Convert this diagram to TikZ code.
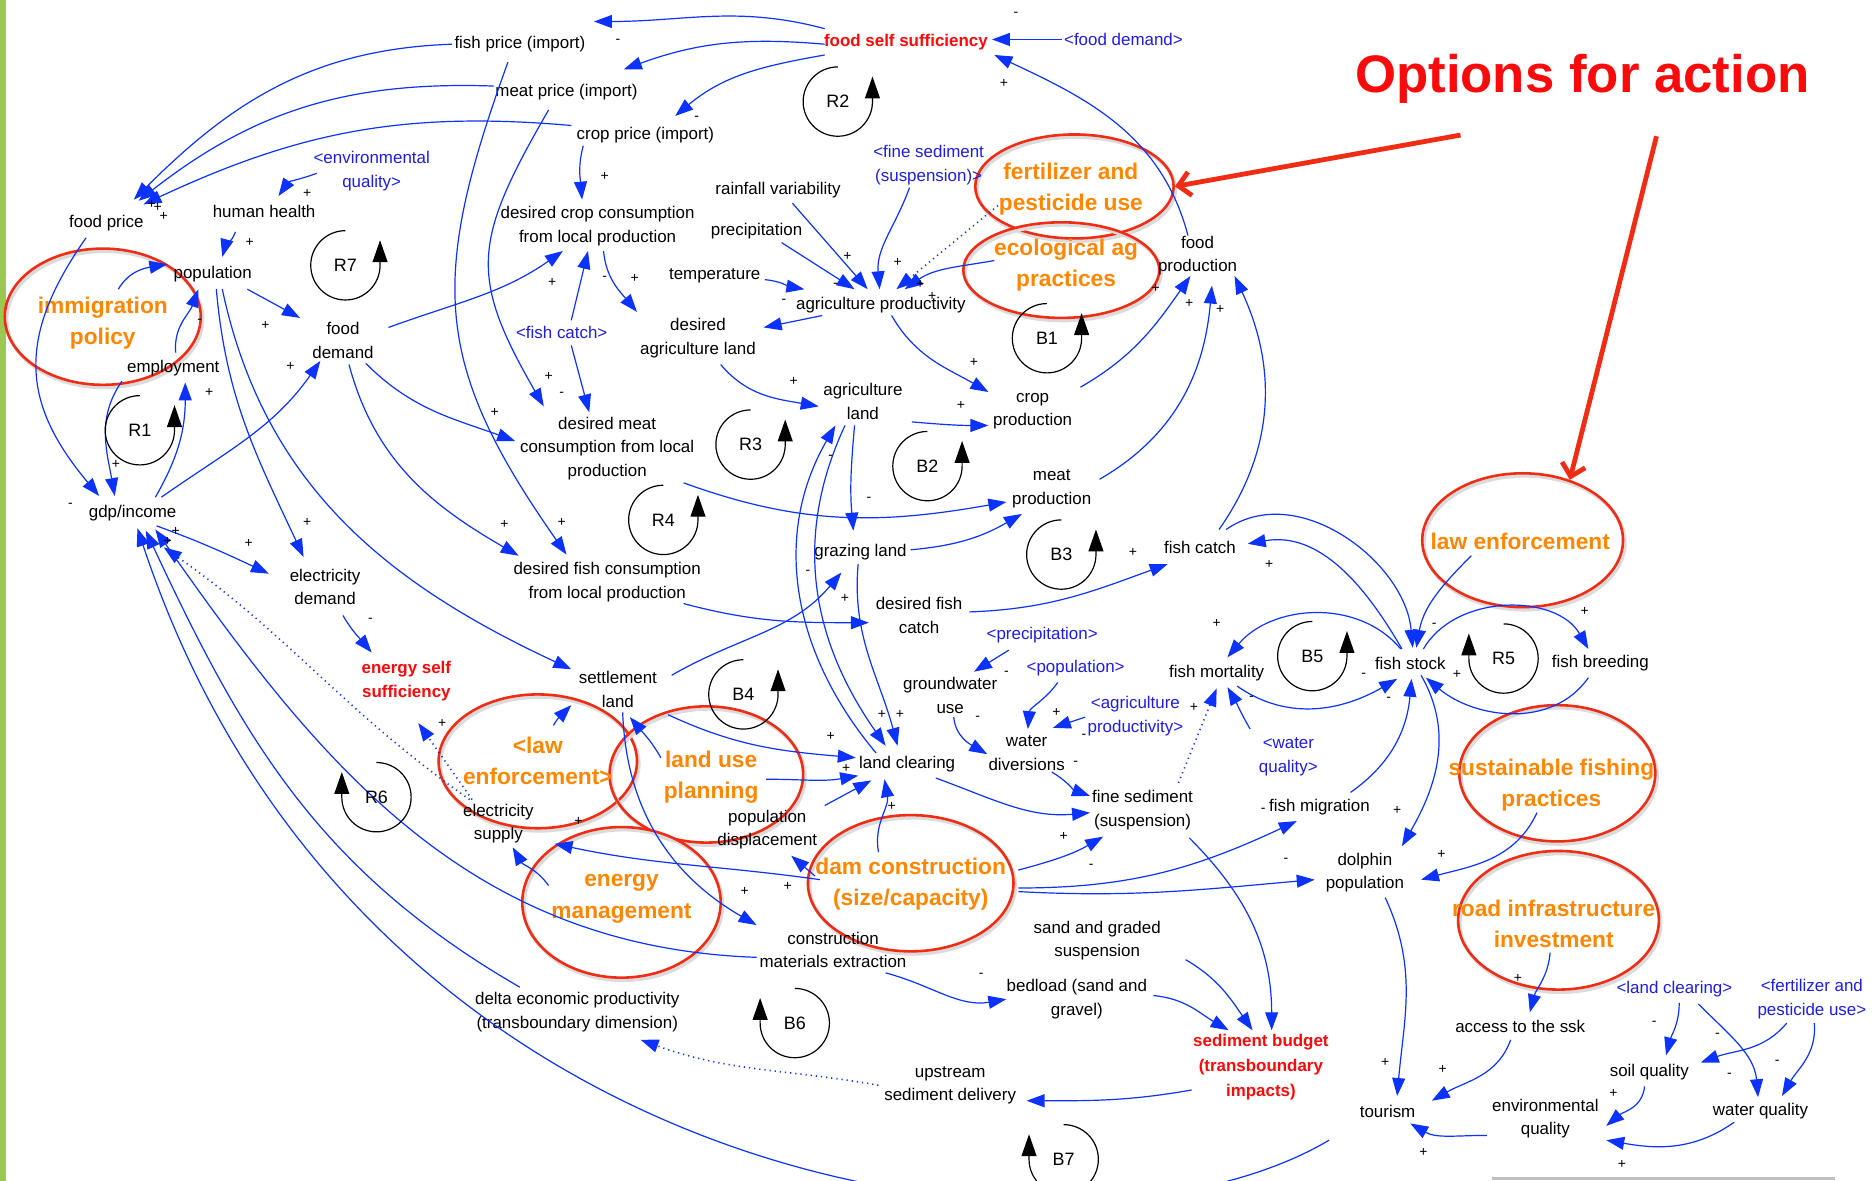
\documentclass[tikz,border=0pt]{standalone}
\usepackage{fontspec}
\setmainfont{Liberation Sans}
\usetikzlibrary{arrows.meta,shapes.geometric}
\definecolor{linkblue}{RGB}{12,50,255}
\definecolor{shadowblue}{RGB}{30,30,225}
\definecolor{goalred}{RGB}{250,10,10}
\definecolor{optorange}{RGB}{255,135,0}
\definecolor{ringred}{RGB}{240,45,20}
\definecolor{barGreen}{RGB}{155,200,80}
\tikzset{
  var/.style={align=center, inner sep=1pt, yshift=-1.2pt, font=\fontsize{8.5}{11.8}\selectfont},
  shadowvar/.style={var, text=shadowblue},
  goal/.style={var, text=goalred, font=\fontsize{8.5}{12.4}\selectfont\bfseries},
  optext/.style={align=center, inner sep=1pt, yshift=-1.2pt, text=optorange, font=\fontsize{11.4}{15.6}\selectfont\bfseries},
  optring/.style={ellipse, draw=ringred, line width=1.3pt, inner sep=0pt,
    preaction={draw=black!14, line width=1.8pt, transform canvas={shift={(0.9pt,-1.3pt)}}}},
  causal/.style={linkblue, line width=0.6pt, -{Triangle[length=9pt,width=6.5pt]}},
  weaklink/.style={causal, dotted, line width=0.8pt},
  polarity/.style={inner sep=0pt, font=\fontsize{7}{7}\selectfont},
  looplabel/.style={inner sep=0pt, font=\fontsize{9}{9}\selectfont},
  loopline/.style={black, line width=0.6pt, -{Triangle[length=11pt,width=7.5pt]}},
  callout/.style={ringred, line width=2.4pt, -{Straight Barb[length=6pt,width=12pt]}},
}
\begin{document}
\begin{tikzpicture}[x=0.6pt, y=0.6pt]
	\useasboundingbox (0,0) rectangle (1568,-988);
	\fill[white] (0,0) rectangle (1568,-988);
	\clip (0,0) rectangle (1568,-988);
	\fill[barGreen] (0,0) rectangle (5,-988);				% side bar
	\draw[black!25, line width=1.2pt] (1248,-986) -- (1535,-986);

	% options for action (rings)
	\node[optring, minimum width=98.4pt, minimum height=68.4pt] (immigring) at (86,-265) {};
	\node[optring, minimum width=99.6pt, minimum height=52.2pt] (fertring) at (899,-156) {};
	\node[optring, minimum width=98.4pt, minimum height=48pt] (ecoring) at (888,-226) {};
	\node[optring, minimum width=100.8pt, minimum height=67.2pt] (lawring) at (1274,-452) {};
	\node[optring, minimum width=99.6pt, minimum height=67.2pt] (lawbring) at (450,-637) {};
	\node[optring, minimum width=97.2pt, minimum height=68.4pt] (landusering) at (591,-648) {};
	\node[optring, minimum width=98.4pt, minimum height=68.4pt] (sustring) at (1303,-647) {};
	\node[optring, minimum width=103.2pt, minimum height=68.4pt] (damring) at (762,-739) {};
	\node[optring, minimum width=99.6pt, minimum height=75.6pt] (energyring) at (520,-755) {};
	\node[optring, minimum width=100.8pt, minimum height=69.6pt] (roadring) at (1304,-770) {};

	\node[optext] (immig) at (86,-268) {immigration\\policy};
	\node[optext] (fertilizer) at (896,-156) {fertilizer and\\pesticide use};
	\node[optext] (ecological) at (892,-220) {ecological ag\\practices};
	\node[optext] (lawenf) at (1272,-451) {law enforcement};
	\node[optext] (lawenfb) at (450,-635) {<law\\enforcement>};
	\node[optext] (landuse) at (595,-648) {land use\\planning};
	\node[optext] (sustainable) at (1298,-655) {sustainable fishing\\practices};
	\node[optext] (damcon) at (762,-738) {dam construction\\(size/capacity)};
	\node[optext] (energymgmt) at (520,-750) {energy\\management};
	\node[optext] (roadinfra) at (1300,-771) {road infrastructure\\investment};

	\node[text=goalred, inner sep=1pt, font=\fontsize{26.5}{30}\selectfont\bfseries] (title) at (1324,-66) {Options for action};
	\draw[callout] ([shift={(-102,-47)}]title.center) -- (fertring.east);
	\draw[callout] ([shift={(62,-48)}]title.center) -- (lawring.52);

	% goals
	\node[goal] (foodself) at (758,-33) {food self sufficiency};
	\node[goal] (energyself) at (340,-568) {energy self\\sufficiency};
	\node[goal] (sedbudget) at (1055,-891) {sediment budget\\(transboundary\\impacts)};

	% shadow variables
	\node[shadowvar] (fooddemandS) at (940,-31) {<food demand>};
	\node[shadowvar] (envqualS) at (311,-141) {<environmental\\quality>};
	\node[shadowvar] (finesedS) at (777,-136) {<fine sediment\\(suspension)>};
	\node[shadowvar] (fishcatchS) at (470,-276) {<fish catch>};
	\node[shadowvar] (precipS) at (872,-529) {<precipitation>};
	\node[shadowvar] (populationS) at (900,-557) {<population>};
	\node[shadowvar] (agprodS) at (950,-597) {<agriculture\\productivity>};
	\node[shadowvar] (waterqualS) at (1078,-631) {<water\\quality>};
	\node[shadowvar] (landclearingS) at (1401,-826) {<land clearing>};
	\node[shadowvar] (fertilizerS) at (1516,-834) {<fertilizer and\\pesticide use>};

	% variables
	\node[var] (fishprice) at (435,-35) {fish price (import)};
	\node[var] (meatprice) at (474,-75) {meat price (import)};
	\node[var] (cropprice) at (540,-111) {crop price (import)};
	\node[var] (foodprice) at (89,-185) {food price};
	\node[var] (humanhealth) at (221,-175) {human health};
	\node[var] (desiredcrop) at (500,-187) {desired crop consumption\\from local production};
	\node[var] (rainfall) at (651,-157) {rainfall variability};
	\node[var] (precip) at (633,-191) {precipitation};
	\node[var] (temperature) at (598,-229) {temperature};
	\node[var] (agprod) at (737,-253) {agriculture productivity};
	\node[var] (foodprod) at (1002,-212) {food\\production};
	\node[var] (population) at (178,-227) {population};
	\node[var] (employment) at (145,-306) {employment};
	\node[var] (fooddemand) at (287,-283) {food\\demand};
	\node[var] (desiredagland) at (584,-281) {desired\\agriculture land};
	\node[var] (agland) at (722,-334) {agriculture\\land};
	\node[var] (cropprod) at (864,-342) {crop\\production};
	\node[var] (desiredmeat) at (508,-373) {desired meat\\consumption from local\\production};
	\node[var] (gdp) at (111,-427) {gdp/income};
	\node[var] (meatprod) at (880,-407) {meat\\production};
	\node[var] (grazing) at (720,-460) {grazing land};
	\node[var] (fishcatch) at (1004,-456) {fish catch};
	\node[var] (elecdemand) at (272,-489) {electricity\\demand};
	\node[var] (desiredfish) at (508,-485) {desired fish consumption\\from local production};
	\node[var] (desiredfishcatch) at (769,-513) {desired fish\\catch};
	\node[var] (settlement) at (517,-575) {settlement\\land};
	\node[var] (groundwater) at (795,-580) {groundwater\\use};
	\node[var] (fishmort) at (1018,-561) {fish mortality};
	\node[var] (fishstock) at (1180,-553) {fish stock};
	\node[var] (fishbreed) at (1339,-553) {fish breeding};
	\node[var] (waterdiv) at (859,-628) {water\\diversions};
	\node[var] (landclearing) at (759,-637) {land clearing};
	\node[var] (elecsupply) at (417,-687) {electricity\\supply};
	\node[var] (popdisp) at (642,-692) {population\\displacement};
	\node[var] (finesed) at (956,-676) {fine sediment\\(suspension)};
	\node[var] (fishmig) at (1104,-673) {fish migration};
	\node[var] (dolphin) at (1142,-728) {dolphin\\population};
	\node[var] (construction) at (697,-793) {construction\\materials extraction};
	\node[var] (sandgraded) at (918,-785) {sand and graded\\suspension};
	\node[var] (bedload) at (901,-834) {bedload (sand and\\gravel)};
	\node[var] (deltaecon) at (483,-845) {delta economic productivity\\(transboundary dimension)};
	\node[var] (access) at (1272,-857) {access to the ssk};
	\node[var] (soilqual) at (1380,-895) {soil quality};
	\node[var] (upstream) at (795,-906) {upstream\\sediment delivery};
	\node[var] (tourism) at (1161,-928) {tourism};
	\node[var] (envquality) at (1293,-934) {environmental\\quality};
	\node[var] (waterqual) at (1473,-928) {water quality};

	% food prices and self sufficiency
	\draw[causal] ([shift={(-68,11)}]foodself.center) to[out=165,in=0] ([shift={(62,19)}]fishprice.center);
	\draw[causal] ([shift={(-68,-2)}]foodself.center) to[out=175,in=20] ([shift={(48,19)}]meatprice.center);
	\draw[causal] ([shift={(-68,-11)}]foodself.center) to[out=190,in=40] ([shift={(25,16)}]cropprice.center);
	\draw[causal] (fooddemandS.west) -- ([shift={(72,2)}]foodself.center);
	\draw[causal] ([shift={(-8,17)}]foodprod.center) to[out=105,in=-25] ([shift={(74,-11)}]foodself.center);
	\draw[causal] ([shift={(-57,0)}]fishprice.center) to[out=182,in=45] ([shift={(23,20)}]foodprice.center);
	\draw[causal] ([shift={(-61,5)}]meatprice.center) to[out=178,in=38] ([shift={(27,19)}]foodprice.center);
	\draw[causal] ([shift={(-62,8)}]cropprice.center) to[out=175,in=25] ([shift={(31,16)}]foodprice.center);
	\draw[causal] ([shift={(-10,-15)}]fishprice.center) to[out=250,in=125,looseness=1.2] ([shift={(-34,23)}]desiredfish.center);
	\draw[causal] ([shift={(-15,-15)}]meatprice.center) to[out=240,in=120,looseness=1.3] ([shift={(-53,35)}]desiredmeat.center);
	\draw[causal] ([shift={(-52,-9)}]cropprice.center) to[out=255,in=95] ([shift={(-13,22)}]desiredcrop.center);

	% population and economy
	\draw[causal] ([shift={(-46,-2)}]envqualS.center) to[out=200,in=55] ([shift={(12,13)}]humanhealth.center);
	\draw[causal] ([shift={(-24,-17)}]humanhealth.center) to[out=250,in=75] ([shift={(8,14)}]population.center);
	\draw[causal] ([shift={(13,28)}]immig.center) to[out=60,in=190] ([shift={(-38,8)}]population.center);
	\draw[causal] ([shift={(2,13)}]employment.center) to[out=95,in=250] ([shift={(-12,-13)}]population.center);
	\draw[causal] ([shift={(29,-13)}]population.center) -- ([shift={(-36,19)}]fooddemand.center);
	\draw[causal] ([shift={(3,-13)}]population.center) to[out=-85,in=115] ([shift={(-18,25)}]elecdemand.center);
	\draw[causal] ([shift={(8,-13)}]population.center) to[out=-78,in=155] ([shift={(-39,17)}]settlement.center);
	\draw[causal] ([shift={(19,13)}]gdp.center) to[out=60,in=-90] ([shift={(10,-12)}]employment.center);
	\draw[causal] ([shift={(-43,-11)}]employment.center) to[out=235,in=100] ([shift={(-15,14)}]gdp.center);
	\draw[causal] ([shift={(-17,-12)}]foodprice.center) to[out=235,in=130,looseness=1.2] ([shift={(-28,14)}]gdp.center);
	\draw[causal] ([shift={(24,13)}]gdp.center) to[out=35,in=235] ([shift={(-19,-17)}]fooddemand.center);
	\draw[causal] ([shift={(20,-11)}]gdp.center) to[out=-20,in=155] ([shift={(-47,11)}]elecdemand.center);

	% food demand
	\draw[causal] ([shift={(38,11)}]fooddemand.center) to[out=20,in=215] ([shift={(-29,-21)}]desiredcrop.center);
	\draw[causal] ([shift={(8,10)}]fishcatchS.center) -- ([shift={(-8,-21)}]desiredcrop.center);
	\draw[causal] ([shift={(8,-11)}]fishcatchS.center) -- ([shift={(-15,30)}]desiredmeat.center);
	\draw[causal] ([shift={(19,-19)}]fooddemand.center) to[out=-45,in=160] ([shift={(-77,6)}]desiredmeat.center);
	\draw[causal] ([shift={(5,-20)}]fooddemand.center) to[out=-75,in=150] ([shift={(-74,22)}]desiredfish.center);
	\draw[causal] ([shift={(5,-21)}]desiredcrop.center) to[out=-85,in=130] ([shift={(-51,22)}]desiredagland.center);

	% agriculture
	\draw[causal] ([shift={(42,-3)}]temperature.center) to[out=-5,in=170] ([shift={(-64,13)}]agprod.center);
	\draw[causal] ([shift={(21,-10)}]precip.center) -- ([shift={(-22,13)}]agprod.center);
	\draw[causal] ([shift={(12,-11)}]rainfall.center) -- ([shift={(-11,13)}]agprod.center);
	\draw[causal] ([shift={(-16,-19)}]finesedS.center) to[out=250,in=95] ([shift={(-1,13)}]agprod.center);
	\draw[weaklink] ([shift={(-61,-14)}]fertilizer.center) -- ([shift={(13,13)}]agprod.center);
	\draw[causal] ([shift={(-60,4)}]ecological.center) to[out=190,in=35] ([shift={(20,13)}]agprod.center);
	\draw[causal] ([shift={(-49,-9)}]agprod.center) -- ([shift={(55,9)}]desiredagland.center);
	\draw[causal] ([shift={(9,-9)}]agprod.center) to[out=-60,in=150] ([shift={(-37,16)}]cropprod.center);
	\draw[causal] ([shift={(19,-22)}]desiredagland.center) to[out=-50,in=170] ([shift={(-37,-4)}]agland.center);
	\draw[causal] ([shift={(41,-17)}]agland.center) to[out=-5,in=180] ([shift={(-37,-12)}]cropprod.center);
	\draw[causal] ([shift={(-7,-20)}]agland.center) to[out=-95,in=95] ([shift={(-6,18)}]grazing.center);
	\draw[causal] ([shift={(-15,-20)}]agland.center) to[out=-115,in=125] ([shift={(-18,15)}]landclearing.center);
	\draw[causal] ([shift={(-26,9)}]landclearing.center) to[out=130,in=240] ([shift={(-23,-20)}]agland.center);
	\draw[causal] ([shift={(-2,-10)}]grazing.center) to[out=-95,in=105] ([shift={(-8,15)}]landclearing.center);
	\draw[causal] ([shift={(42,2)}]grazing.center) to[out=5,in=210] ([shift={(-25,-21)}]meatprod.center);
	\draw[causal] ([shift={(64,-29)}]desiredmeat.center) to[out=-20,in=190] ([shift={(-38,-11)}]meatprod.center);
	\draw[causal] ([shift={(40,8)}]meatprod.center) to[out=30,in=-95] ([shift={(12,-25)}]foodprod.center);
	\draw[causal] ([shift={(40,20)}]cropprod.center) to[out=30,in=235] ([shift={(-6,-17)}]foodprod.center);
	\draw[causal] ([shift={(16,15)}]fishcatch.center) to[out=55,in=-65] ([shift={(31,-17)}]foodprod.center);

	% fisheries
	\draw[causal] ([shift={(64,-18)}]desiredfish.center) to[out=-15,in=180] ([shift={(-42,-6)}]desiredfishcatch.center);
	\draw[causal] ([shift={(45,12)}]settlement.center) to[out=30,in=230] ([shift={(-16,-17)}]grazing.center);
	\draw[causal] ([shift={(42,3)}]desiredfishcatch.center) to[out=2,in=200] ([shift={(-27,-14)}]fishcatch.center);
	\draw[causal] ([shift={(-7,12)}]fishstock.center) to[out=120,in=10] ([shift={(40,3)}]fishcatch.center);
	\draw[causal] ([shift={(22,15)}]fishcatch.center) to[out=35,in=95] ([shift={(2,13)}]fishstock.center);
	\draw[causal] ([shift={(-41,-12)}]lawenf.center) to[out=225,in=80] ([shift={(5,13)}]fishstock.center);
	\draw[causal] ([shift={(-8,12)}]fishstock.center) to[out=130,in=50] ([shift={(9,13)}]fishmort.center);
	\draw[causal] ([shift={(17,-11)}]fishmort.center) to[out=-35,in=210] ([shift={(-11,-13)}]fishstock.center);
	\draw[causal] ([shift={(11,12)}]fishstock.center) to[out=60,in=120] ([shift={(-10,12)}]fishbreed.center);
	\draw[causal] ([shift={(-10,-12)}]fishbreed.center) to[out=-125,in=-40] ([shift={(13,-12)}]fishstock.center);
	\draw[causal] ([shift={(9,-10)}]fishstock.center) to[out=-60,in=60] ([shift={(31,22)}]dolphin.center);
	\draw[causal] ([shift={(26,12)}]fishmig.center) to[out=35,in=-95] ([shift={(1,-13)}]fishstock.center);
	\draw[causal] ([shift={(-32,23)}]waterqualS.center) to[out=120,in=-60] ([shift={(9,-12)}]fishmort.center);
	\draw[weaklink] ([shift={(30,23)}]finesed.center) -- ([shift={(0,-13)}]fishmort.center);
	\draw[causal] ([shift={(-12,-23)}]sustainable.center) to[out=-115,in=15] ([shift={(47,-6)}]dolphin.center);

	% dam, land and sediment
	\draw[causal] ([shift={(90,-6)}]damcon.center) to[out=-3,in=185] ([shift={(-42,-6)}]dolphin.center);
	\draw[causal] ([shift={(90,-3)}]damcon.center) to[out=0,in=205] ([shift={(-19,-12)}]fishmig.center);
	\draw[causal] ([shift={(90,12)}]damcon.center) to[out=15,in=210] ([shift={(-33,-22)}]finesed.center);
	\draw[causal] ([shift={(-27,27)}]damcon.center) to[out=100,in=-80] ([shift={(-19,-13)}]landclearing.center);
	\draw[causal] ([shift={(-80,7)}]damcon.center) -- ([shift={(20,-22)}]popdisp.center);
	\draw[causal] ([shift={(-76,4)}]damcon.center) to[out=172,in=-12] ([shift={(47,-17)}]elecsupply.center);
	\draw[causal] ([shift={(48,20)}]popdisp.center) -- ([shift={(-30,-14)}]landclearing.center);
	\draw[causal] ([shift={(46,-2)}]landuse.center) to[out=0,in=190] ([shift={(-41,-10)}]landclearing.center);
	\draw[causal] ([shift={(42,-21)}]settlement.center) to[out=-25,in=175] ([shift={(-43,5)}]landclearing.center);
	\draw[causal] ([shift={(-42,16)}]landuse.center) to[out=120,in=-50] ([shift={(10,-23)}]settlement.center);
	\draw[causal] ([shift={(13,30)}]lawenfb.center) to[out=60,in=225] ([shift={(-39,-13)}]settlement.center);
	\draw[causal] ([shift={(4,-19)}]settlement.center) to[out=-88,in=150] ([shift={(-64,21)}]construction.center);
	\draw[causal] ([shift={(-64,-6)}]construction.center) to[out=178,in=-55] ([shift={(19,-14)}]gdp.center);
	\draw[causal] ([shift={(-48,21)}]deltaecon.center) to[out=150,in=-65] ([shift={(11,-15)}]gdp.center);
	\draw[causal] ([shift={(-49,-24)}]tourism.center) .. controls (900,-1080) and (300,-1000) .. ([shift={(4,-13)}]gdp.center);
	\draw[weaklink] ([shift={(-24,20)}]elecsupply.center) to[out=145,in=-35] ([shift={(26,-29)}]gdp.center);
	\draw[weaklink] ([shift={(-22,20)}]elecsupply.center) -- ([shift={(10,-35)}]energyself.center);
	\draw[causal] ([shift={(15,-24)}]elecdemand.center) to[out=-60,in=130] ([shift={(-29,24)}]energyself.center);
	\draw[causal] ([shift={(-61,11)}]energymgmt.center) to[out=125,in=-60] ([shift={(12,-20)}]elecsupply.center);
	\draw[causal] ([shift={(44,-19)}]construction.center) to[out=-15,in=190] ([shift={(-59,0)}]bedload.center);
	\draw[causal] ([shift={(64,3)}]bedload.center) to[out=-5,in=150] ([shift={(-27,31)}]sedbudget.center);
	\draw[causal] ([shift={(74,-16)}]sandgraded.center) to[out=-30,in=125] ([shift={(-7,31)}]sedbudget.center);
	\draw[causal] ([shift={(39,-23)}]finesed.center) to[out=-45,in=90] ([shift={(9,31)}]sedbudget.center);
	\draw[causal] ([shift={(-58,-19)}]sedbudget.center) to[out=190,in=0] ([shift={(64,-13)}]upstream.center);
	\draw[weaklink] ([shift={(-60,0)}]upstream.center) to[out=170,in=-20] ([shift={(53,-23)}]deltaecon.center);

	% water
	\draw[causal] ([shift={(3,-18)}]groundwater.center) to[out=-85,in=150] ([shift={(-33,-1)}]waterdiv.center);
	\draw[causal] ([shift={(-28,-13)}]precipS.center) -- ([shift={(20,20)}]groundwater.center);
	\draw[causal] ([shift={(-15,-12)}]populationS.center) to[out=235,in=85] ([shift={(1,20)}]waterdiv.center);
	\draw[causal] ([shift={(-42,-1)}]agprodS.center) -- ([shift={(22,21)}]waterdiv.center);
	\draw[causal] ([shift={(21,-16)}]waterdiv.center) to[out=-30,in=160] ([shift={(-44,12)}]finesed.center);
	\draw[causal] ([shift={(24,-12)}]landclearing.center) to[out=-20,in=185] ([shift={(-44,-2)}]finesed.center);

	% tourism
	\draw[causal] ([shift={(17,-21)}]dolphin.center) to[out=-65,in=85] ([shift={(8,13)}]tourism.center);
	\draw[causal] ([shift={(-3,-24)}]roadinfra.center) to[out=-95,in=75] ([shift={(8,12)}]access.center);
	\draw[causal] ([shift={(-8,-11)}]access.center) to[out=-110,in=30] ([shift={(37,9)}]tourism.center);
	\draw[causal] ([shift={(-49,-14)}]envquality.center) to[out=180,in=-30] ([shift={(19,-10)}]tourism.center);
	\draw[causal] ([shift={(4,-11)}]landclearingS.center) to[out=-90,in=75] ([shift={(14,14)}]soilqual.center);
	\draw[causal] ([shift={(20,-12)}]landclearingS.center) to[out=-45,in=95] ([shift={(-2,12)}]waterqual.center);
	\draw[causal] ([shift={(-21,-20)}]fertilizerS.center) to[out=-130,in=20] ([shift={(43,8)}]soilqual.center);
	\draw[causal] ([shift={(2,-20)}]fertilizerS.center) to[out=-85,in=60] ([shift={(18,13)}]waterqual.center);
	\draw[causal] ([shift={(-4,-12)}]soilqual.center) to[out=-95,in=40] ([shift={(51,-6)}]envquality.center);
	\draw[causal] ([shift={(-22,-9)}]waterqual.center) to[out=-145,in=-10] ([shift={(51,-18)}]envquality.center);

	% loops
	\foreach \lname/\x/\y in {R2/701/85, R7/289/222, B1/876/283, R1/117/360, R3/628/372, B2/776/390, R4/555/435, B3/888/464, B5/1098/549, B4/622/581}{
		\node[looplabel] (loop\lname) at (\x,-\y) {\lname};
		\draw[loopline] ([shift={(90:29)}]loop\lname.center) arc[start angle=90, end angle=360, radius=29] -- ++(0,21);
	}
	\foreach \lname/\x/\y in {R5/1258/551, R6/315/667, B6/665/856, B7/890/970}{
		\node[looplabel] (loop\lname) at (\x,-\y) {\lname};
		\draw[loopline] ([shift={(90:29)}]loop\lname.center) arc[start angle=90, end angle=-180, radius=29] -- ++(0,21);
	}

	% polarities
	\foreach \s/\x/\y [count=\i] in {-/517/35, -/583/99, -/850/12, +/840/70, +/127/171, +/132/174, +/137/181,
		+/257/162, +/209/203, +/506/148, -/167/269, +/222/272, +/243/307, +/175/328, +/462/236, -/506/233, +/531/233,
		+/709/215, +/751/220, -/699/239, +/770/238, +/780/248, -/656/252, +/967/241, +/995/254, +/1021/259,
		+/815/303, +/664/319, +/804/339, -/695/383, -/727/418, +/414/345, +/459/315, -/470/330, +/97/389, -/59/423,
		+/147/445, +/140/453, +/208/455, +/257/437, +/422/439, +/470/437, -/310/519, +/370/605, -/676/479, +/707/501,
		+/948/462, +/1062/472, +/1018/522, -/1047/584, -/1141/565, -/1162/585, +/1326/512, -/1200/523, +/1219/564,
		+/1169/678, +/999/592, -/842/563, +/884/596, -/818/601, -/907/616, -/900/639, +/890/700, -/913/725,
		-/1076/720, -/1057/678, +/1206/715, -/821/816, +/738/598, +/753/598, +/695/616, +/708/643, +/746/675,
		+/484/687, +/623/746, +/659/742, +/1159/889, +/1207/895, +/1270/819, -/1384/856, -/1437/866, -/1447/900,
		-/1487/889, +/1350/915, +/1191/964, +/1357/974}{
		\node[polarity] (pol\i) at (\x,-\y) {\s};
	}
\end{tikzpicture}
\end{document}
